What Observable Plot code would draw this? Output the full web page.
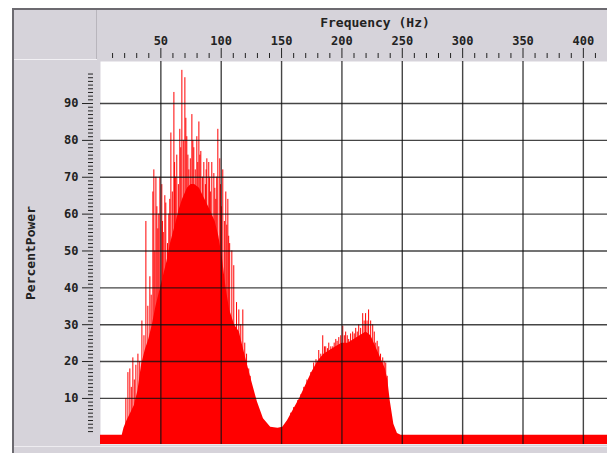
<!DOCTYPE html>
<html>
<head>
<meta charset="utf-8">
<script src="https://cdn.jsdelivr.net/npm/d3@7"></script>
<script src="https://cdn.jsdelivr.net/npm/@observablehq/plot@0.6"></script>
<style>
  html, body { margin: 0; padding: 0; background: #fff; }
  #wrap { position: relative; width: 607px; height: 453px; overflow: hidden; background: #fff; }
  .panel { position: absolute; left: 12px; top: 8px; right: 0; bottom: 0; background: #d6d3da;
           border-left: 2px solid #6c6a70; border-top: 2px solid #6c6a70; }
  .line { position: absolute; }
  #chart { position: absolute; left: 0; top: 0; }
</style>
</head>
<body>
<div id="wrap">
  <div class="panel"></div>
  <div class="line" style="left:96px;top:10px;width:1px;height:50px;background:#b8b5bc"></div>
  <div class="line" style="left:14px;top:59px;width:83px;height:1px;background:#f2f0f4"></div>
  <div class="line" style="left:14px;top:446px;width:593px;height:1px;background:#eeecf0"></div>
  <div id="chart"></div>
</div>
<script>
// Frequency axis ticks (Hz)
const majorX = [50, 100, 150, 200, 250, 300, 350, 400];
const minorX = d3.range(10, 420, 10).filter(v => v % 50 !== 0);
// Percent power axis ticks
const majorY = [10, 20, 30, 40, 50, 60, 70, 80, 90];
const minorY = d3.range(1, 99).filter(v => v % 10 !== 0);

// Lowest value shown on the power axis; the spectrum floor is filled down to it
const yFloor = -2.5;

// Smooth body of the power spectrum
const bodyHz  = [0, 18, 19.5, 22, 25, 28, 31, 34, 37, 40, 43, 46, 49, 52, 55, 58, 62, 65, 68, 72, 75, 78, 82, 85, 88, 91, 95, 98, 101, 104, 107, 111, 115, 118, 121, 125, 130, 135, 141, 147, 151, 155, 160, 165, 170, 175, 180, 185, 190, 195, 200, 205, 210, 215, 220, 224, 228, 232, 236, 238, 240, 243, 246, 249, 420];
const bodyPct = [0, 0, 2, 4, 6, 8, 12, 19, 23, 26, 30, 35, 39, 43, 47, 52, 57, 61, 64, 67, 68, 68, 67, 65, 63, 61, 58, 54, 48, 40, 34, 30, 28, 24, 20, 15, 9, 4.5, 2.2, 1.9, 2.2, 4, 7, 10, 13.5, 17, 20, 22, 23, 24, 25, 25, 26, 27, 28, 27, 24, 21, 18, 15, 9.4, 3, 0.5, 0, 0];

// Narrow spectral peaks rising above the body
const spikeHz  = [21, 22.7, 24.3, 25.5, 26.8, 28, 29.3, 31, 32.5, 34.3, 36, 37.6, 39.2, 40.9, 42, 43.4, 44.2, 45, 45.9, 46.7, 47.5, 48.3, 49.2, 50.8, 51.4, 52, 53.3, 54.1, 55.5, 56.6, 57.4, 58.3, 59.5, 60.8, 61.4, 62, 63.2, 64.5, 65.7, 66.5, 67.4, 68.6, 69.9, 70.7, 71.5, 72.4, 73.2, 74.4, 75.7, 76.5, 77.3, 78.5, 79.8, 80.6, 81.5, 82.3, 83.1, 84.4, 85.6, 86.9, 87.5, 88.1, 89.7, 90.4, 91, 92.2, 93.9, 94.7, 95.5, 96.3, 97.2, 98.8, 99.4, 100, 101.3, 102.6, 103.8, 104.6, 105.5, 106.2, 107, 108.8, 110.4, 112.7, 114.6, 116.2, 117.9, 119.5, 121, 122.8, 124,
                  157.6, 160, 163.4, 166, 168.4, 171, 174.2, 176.6, 178.5, 180.8, 182.5, 184.1, 185.5, 186.6, 188, 189.1, 190.8, 192.4, 193.6, 194.9, 196, 197.4, 199, 200.7, 202, 203.1, 204.4, 205.6, 207.2, 208.9, 210.2, 211.4, 212.7, 213.9, 215.5, 217.2, 218.4, 219.6, 220.8, 222.1, 223.8, 225.5, 226.8, 228, 229.2, 230.5, 232, 233.8, 235, 236.3, 237.5];
const spikePct = [10, 17, 18, 13, 21, 15, 19, 22, 20, 31, 27, 58, 35, 43, 38, 66, 72, 50, 70, 62, 56, 60, 70, 68, 58, 55, 65, 63, 52, 60, 64, 82, 66, 93, 74, 70, 76, 68, 83, 78, 99, 80, 97, 86, 81, 76, 72, 75, 87, 80, 78, 72, 81, 74, 85, 76, 77, 70, 74, 68, 72, 75, 74, 70, 66, 74, 71, 67, 64, 70, 83, 75, 68, 62, 72, 58, 66, 57, 64, 54, 52, 50, 46, 36, 34, 30, 34, 25, 22, 18, 16,
                  6, 7.5, 9.4, 11, 13, 15, 17, 19.6, 20.5, 23, 22, 27, 24, 24, 23.5, 25, 24, 24, 25, 26, 25.5, 26.5, 27, 29.6, 27, 28, 27, 26, 27.5, 28, 27.5, 29, 28, 30, 29, 33, 31, 33, 31, 34, 31, 30, 28, 25, 25.5, 24, 22, 21, 20, 19.6, 16];

const body = bodyHz.map((hz, i) => ({hz, pct: bodyPct[i]}));
const spikes = spikeHz.map((hz, i) => ({hz, pct: spikePct[i]}));

const gridStyle = {stroke: "#111", strokeOpacity: 0.78, strokeWidth: 1.4};
const tickFont = {fontFamily: "DejaVu Sans Mono", fontWeight: "bold", fontSize: 12};

const chart = Plot.plot({
  width: 607,
  height: 453,
  marginLeft: 100,
  marginRight: 0,
  marginTop: 61,
  marginBottom: 9,
  x: {domain: [0, 420], label: null},
  y: {domain: [yFloor, 101.4], label: null},
  style: {background: "transparent", color: "#222", fontFamily: "DejaVu Sans Mono", fontWeight: "bold", fontSize: "12px"},
  marks: [
    Plot.frame({fill: "white"}),
    Plot.areaY(body, {x: "hz", y1: yFloor, y2: "pct", fill: "red"}),
    Plot.ruleX(spikes, {x: "hz", y1: 0, y2: "pct", stroke: "red", strokeWidth: 1}),
    Plot.gridX({ticks: majorX, ...gridStyle}),
    Plot.gridY({ticks: majorY, ...gridStyle}),
    Plot.axisX({anchor: "top", ticks: majorX, tickSize: 10, tickPadding: 3, dy: -4, label: null, ...tickFont}),
    Plot.axisX({anchor: "top", ticks: minorX, tickSize: 5, dy: -4, label: null, tickFormat: () => ""}),
    Plot.axisY({anchor: "left", ticks: majorY, tickSize: 11, tickPadding: 4, dx: -7, label: null, ...tickFont}),
    Plot.axisY({anchor: "left", ticks: minorY, tickSize: 5, dx: -7, label: null, tickFormat: () => ""}),
    Plot.text(["Frequency (Hz)"], {frameAnchor: "top", textAnchor: "middle", lineAnchor: "middle", dy: -39, dx: 21, fontSize: 13, fontWeight: "bold", fill: "#222", style: "letter-spacing:0.4px"}),
    Plot.text(["PercentPower"], {frameAnchor: "left", textAnchor: "middle", lineAnchor: "middle", dx: -70, rotate: -90, fontSize: 13, fontWeight: "bold", fill: "#222"})
  ]
});
document.getElementById("chart").appendChild(chart);
</script>
</body>
</html>
